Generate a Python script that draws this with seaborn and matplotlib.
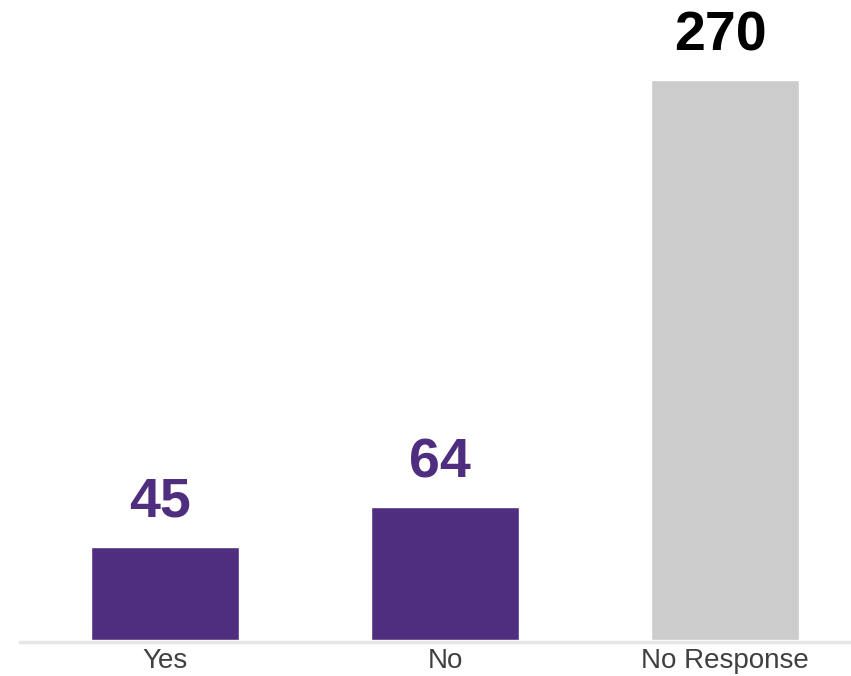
import matplotlib
matplotlib.use("Agg")
import matplotlib.pyplot as plt
import seaborn as sns
import pandas as pd

# Data
categories = ["Yes", "No", "No Response"]
counts = [45, 64, 270]
bar_colors = ["#4f2d7f", "#4f2d7f", "#cccccc"]
label_colors = ["#4f2d7f", "#4f2d7f", "#000000"]

df = pd.DataFrame({"answer": categories, "count": counts})

sns.set_theme(style="white")
plt.rcParams["font.family"] = ["Liberation Sans", "DejaVu Sans"]

fig = plt.figure(figsize=(8.51, 6.76), dpi=100)
ax = fig.add_axes([20 / 851, 36 / 676, 831 / 851, 640 / 676])

sns.barplot(data=df, x="answer", y="count", hue="answer",
            palette=dict(zip(categories, bar_colors)), width=0.53,
            legend=False, ax=ax, saturation=1)

ax.set_xlim(-0.518, 2.45)
ax.set_ylim(0, 270 * 640 / 560)

# value labels above bars
for i, (v, c) in enumerate(zip(counts, label_colors)):
    ax.annotate(str(v), (i, v), xytext=(-3.5, 21.5), textcoords="offset points",
                ha="center", va="baseline", fontsize=40, fontweight="bold",
                color=c)

for s in ["top", "left", "right"]:
    ax.spines[s].set_visible(False)
ax.spines["bottom"].set_color("#e6e6e6")
ax.spines["bottom"].set_linewidth(2.5)
ax.spines["bottom"].set_position(("outward", 1.5))
ax.spines["bottom"].set_zorder(0)

ax.set_yticks([])
ax.set_xlabel("")
ax.set_ylabel("")
ax.tick_params(axis="x", length=0, pad=4.5, labelsize=20, labelcolor="#404040")

fig.savefig("out.png", dpi=100)
